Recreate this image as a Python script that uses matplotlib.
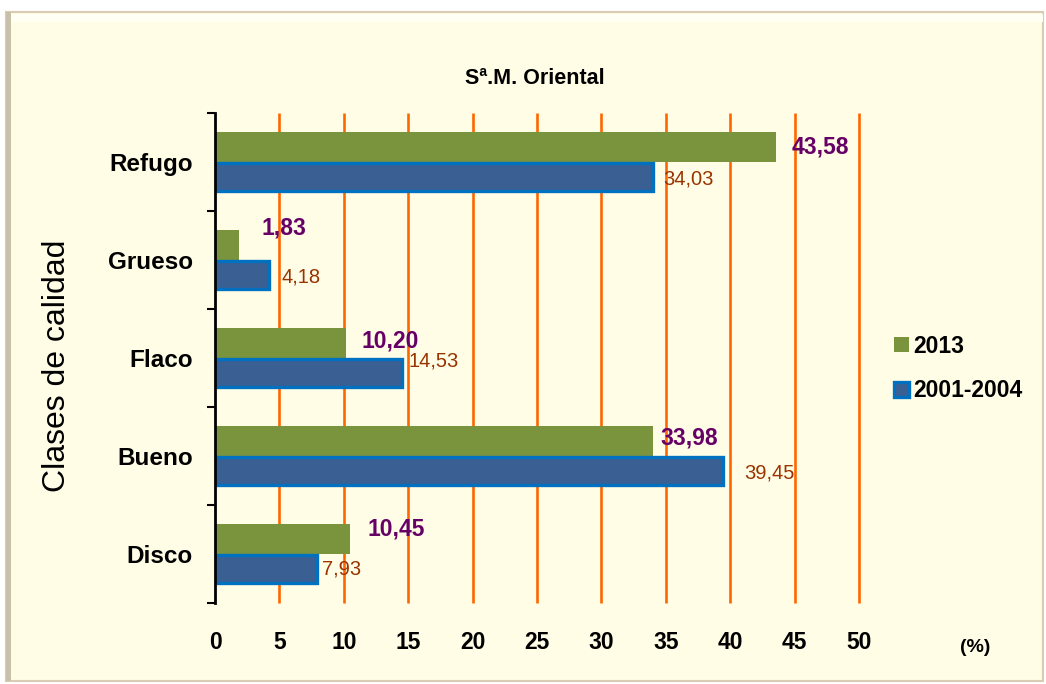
import numpy as np
import matplotlib.pyplot as plt
from matplotlib.patches import Rectangle

plt.rcParams['font.family'] = ['Liberation Sans', 'DejaVu Sans']

# data
categories = ['Refugo', 'Grueso', 'Flaco', 'Bueno', 'Disco']
values_2013 = [43.58, 1.83, 10.20, 33.98, 10.45]
values_2001 = [34.03, 4.18, 14.53, 39.45, 7.93]
series_names = ['2013', '2001-2004']
xticks = [0, 5, 10, 15, 20, 25, 30, 35, 40, 45, 50]

# label nudges (x in %, y in category units)
off_2013 = [(1.2, 0.0), (1.8, 0.17), (1.2, 0.02), (0.6, 0.03), (1.4, 0.1)]
off_2001 = [(0.8, -0.02), (1.0, -0.02), (0.5, 0.12), (1.6, -0.02), (0.4, 0.0)]

green = '#7A943E'
blue_face = '#3A5F92'
blue_edge = '#0070C0'
purple = '#660066'
brown = '#993300'
orange = '#FF6600'
cream = '#FFFDE6'

fig = plt.figure(figsize=(10.46, 6.84), dpi=100)
fig.patch.set_facecolor('white')

# chart area with a bevelled border
W, H = 1046, 684
frame = Rectangle((6 / W, 3 / H), 1037 / W, 669 / H, transform=fig.transFigure,
                  facecolor=cream, edgecolor='#D8CDB4', lw=1.5, zorder=-10)
fig.patches.append(frame)
fig.patches.append(Rectangle((6 / W, 3 / H), 5 / W, 669 / H, transform=fig.transFigure,
                             facecolor='#C9C0AA', edgecolor='none', zorder=-9))
fig.patches.append(Rectangle((11 / W, 662 / H), 1032 / W, 8 / H, transform=fig.transFigure,
                             facecolor='#FFFFF4', edgecolor='none', zorder=-9))

ax = fig.add_axes([215 / W, 1 - 603 / H, 644 / W, 490 / H])
ax.set_facecolor('none')

y = np.arange(len(categories))[::-1]
h = 0.31
ax.barh(y + h / 2, values_2013, height=h, color=green, label=series_names[0], zorder=3)
ax.barh(y - h / 2, values_2001, height=h - 0.03, color=blue_face, edgecolor=blue_edge,
        linewidth=2.4, label=series_names[1], zorder=3)

for yi, v, (dx, dy) in zip(y, values_2013, off_2013):
    ax.text(v + dx, yi + h / 2 + dy, f'{v:.2f}'.replace('.', ','), color=purple,
            fontsize=16.5, fontweight='bold', va='center', ha='left', zorder=5)
for yi, v, (dx, dy) in zip(y, values_2001, off_2001):
    ax.text(v + dx, yi - h / 2 + dy, f'{v:.2f}'.replace('.', ','), color=brown,
            fontsize=14.5, va='center', ha='left', zorder=5)

# orange vertical grid
ax.vlines(xticks[1:], -0.5, len(categories) - 0.5, color=orange, lw=1.9, zorder=1,
          clip_on=False)

ax.set_xlim(0, 50)
ax.set_ylim(-0.5, len(categories) - 0.5)
ax.set_xticks(xticks)
ax.set_xticklabels([str(t) for t in xticks], fontsize=16.5, fontweight='bold')
ax.tick_params(axis='x', length=0, pad=20)
ax.set_yticks(y)
ax.set_yticklabels(categories, fontsize=17.5, fontweight='bold')
ax.tick_params(axis='y', which='major', length=0, pad=16)
ax.set_yticks(np.arange(-0.5, len(categories), 1), minor=True)
ax.tick_params(axis='y', which='minor', length=6, width=1.5, direction='out', color='black')

for s in ['top', 'right', 'bottom']:
    ax.spines[s].set_visible(False)
ax.spines['left'].set_linewidth(2)
ax.spines['left'].set_zorder(6)

fig.text(535 / W, 1 - 78 / H, 'Sª.M. Oriental', fontsize=15.5, fontweight='bold',
         ha='center', va='center')
fig.text(57 / W, 1 - 366 / H, 'Clases de calidad', fontsize=23, rotation=90,
         ha='center', va='center')
fig.text(975 / W, 1 - 648 / H, '(%)', fontsize=14, fontweight='bold',
         ha='center', va='center')

fig.legend(loc='upper left', bbox_to_anchor=(873 / W, 1 - 314 / H), frameon=False,
           prop={'weight': 'bold', 'size': 16.5}, handlelength=0.65,
           handleheight=0.65, handletextpad=0.2, labelspacing=0.95)

fig.savefig('out.png', dpi=100, facecolor=fig.get_facecolor())
